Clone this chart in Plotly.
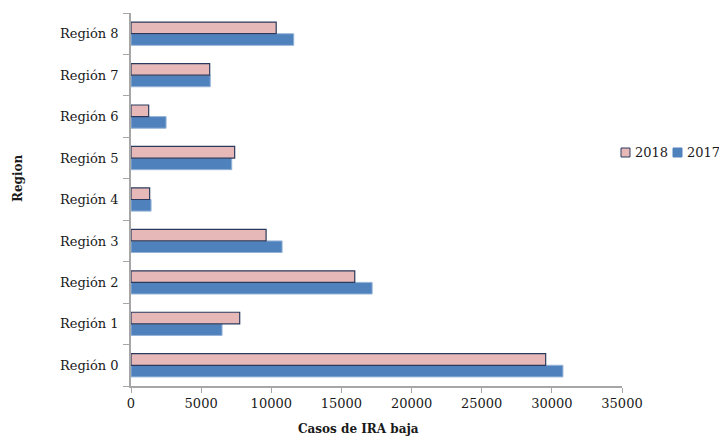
import plotly.graph_objects as go

regions = ["Región 0", "Región 1", "Región 2", "Región 3", "Región 4",
           "Región 5", "Región 6", "Región 7", "Región 8"]
casos_2017 = [30790, 6490, 17190, 10770, 1430, 7180, 2500, 5650, 11600]
casos_2018 = [29560, 7750, 15950, 9630, 1330, 7390, 1260, 5610, 10350]
x_ticks = [0, 5000, 10000, 15000, 20000, 25000, 30000, 35000]

FONT = "DejaVu Serif"
AXIS_GRAY = "#A6A6A6"
PINK = "#E6B9B8"
PINK_LINE = "#2B3A5C"
BLUE = "#4F81BD"
BLUE_LINE = "#95B3D7"

fig = go.Figure()
fig.add_trace(go.Bar(y=regions, x=casos_2017, orientation="h", name="2017",
                     marker=dict(color=BLUE, line=dict(color=BLUE_LINE, width=1))))
fig.add_trace(go.Bar(y=regions, x=casos_2018, orientation="h", name="2018",
                     marker=dict(color=PINK, line=dict(color=PINK_LINE, width=1.2))))

fig.update_layout(
    width=719, height=437,
    margin=dict(l=131, r=97, t=13, b=51),
    paper_bgcolor="white", plot_bgcolor="white",
    barmode="group", bargap=0.44, bargroupgap=0,
    showlegend=False,
    font=dict(family=FONT, size=13, color="#1a1a1a"),
)
fig.update_xaxes(
    range=[0, 35000], tickvals=x_ticks, ticktext=[str(v) for v in x_ticks],
    showgrid=False, zeroline=False,
    showline=True, linecolor=AXIS_GRAY, linewidth=1.5,
    ticks="outside", ticklen=5, tickcolor=AXIS_GRAY, tickwidth=1.2,
    tickfont=dict(family=FONT, size=13, color="#1a1a1a"),
)
fig.update_yaxes(
    type="category", categoryorder="array", categoryarray=regions,
    showgrid=False, zeroline=False,
    showline=True, linecolor=AXIS_GRAY, linewidth=1.5,
    ticks="outside", ticklen=6, tickcolor=AXIS_GRAY, tickwidth=1.2,
    tickson="boundaries", ticklabelstandoff=8,
    tickfont=dict(family=FONT, size=13, color="#1a1a1a"),
)

# axis titles
fig.add_annotation(text="<b>Casos de IRA baja</b>", xref="paper", yref="paper",
                   x=(358 - 131) / 491, y=-(429 - 386) / 373, showarrow=False,
                   xanchor="center", yanchor="middle",
                   font=dict(family=FONT, size=12, color="#1a1a1a"))
fig.add_annotation(text="<b>Region</b>", xref="paper", yref="paper",
                   x=-(131 - 18) / 491, y=(386 - 178) / 373, showarrow=False,
                   textangle=-90, xanchor="center", yanchor="middle",
                   font=dict(family=FONT, size=12, color="#1a1a1a"))

# manual compact legend
def px_x(p):
    return (p - 131) / 491

def px_y(p):
    return (386 - p) / 373

legend_items = [("2018", PINK, PINK_LINE, 621), ("2017", BLUE, BLUE_LINE, 673)]
for label, fill, line, x0 in legend_items:
    fig.add_shape(type="rect", xref="paper", yref="paper",
                  x0=px_x(x0), x1=px_x(x0 + 9), y0=px_y(157), y1=px_y(148),
                  fillcolor=fill, line=dict(color=line if label == "2018" else fill, width=1))
    fig.add_annotation(text=label, xref="paper", yref="paper",
                       x=px_x(x0 + 12), y=px_y(152), showarrow=False,
                       xanchor="left", yanchor="middle",
                       font=dict(family=FONT, size=13, color="#1a1a1a"))

fig.write_html("out.html", config={"displayModeBar": False})

# remove the browser's default page margin so the figure sits at the top-left corner
with open("out.html", "r", encoding="utf-8") as f:
    html = f.read()
html = html.replace("<head>", "<head><style>html,body{margin:0;padding:0;overflow:hidden;}</style>", 1)
with open("out.html", "w", encoding="utf-8") as f:
    f.write(html)
